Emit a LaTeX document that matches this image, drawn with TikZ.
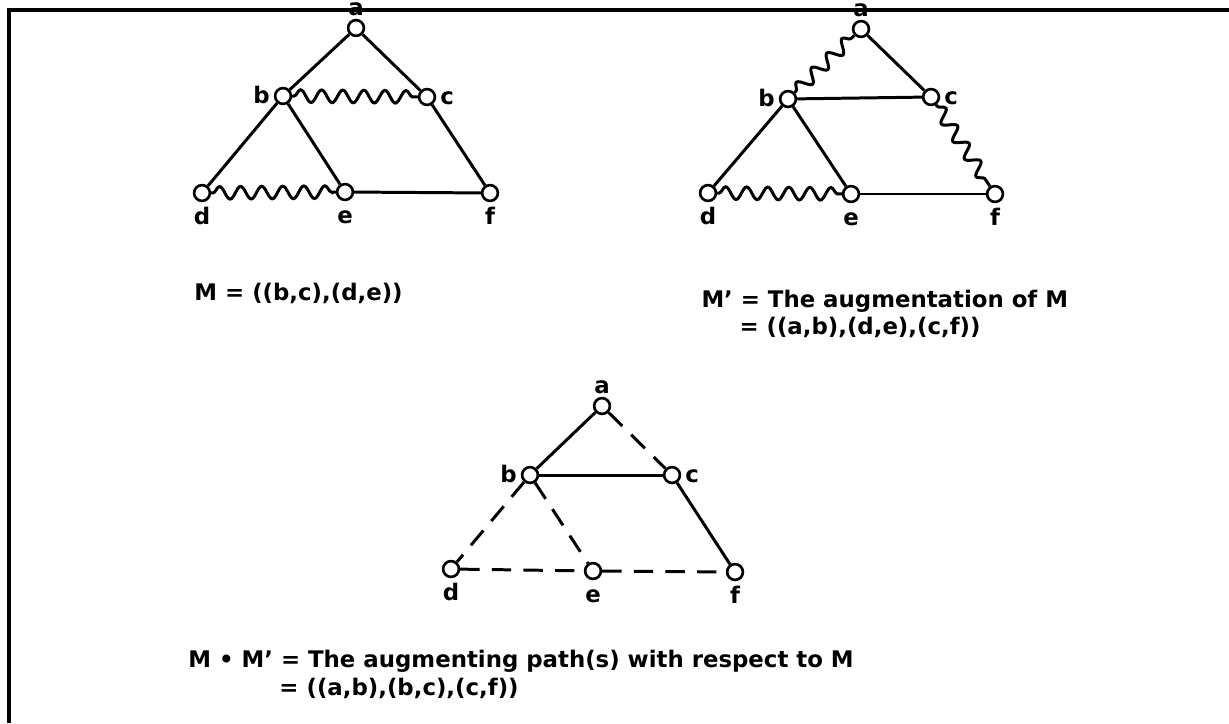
\documentclass[tikz,border=0pt]{standalone}
\usepackage{fontspec}
\setmainfont{DejaVu Sans}
\usetikzlibrary{positioning,decorations.pathmorphing}
\definecolor{ink}{HTML}{000000}
\tikzset{every node/.style={font=\bfseries\fontsize{13}{15}\selectfont,text=ink},
  vertex/.style={circle,draw=ink,fill=white,line width=1.5pt,minimum size=9pt,inner sep=0pt},
  tag/.style={inner sep=0pt,text height=1.6ex,text depth=0pt},
  edge/.style={draw=ink,line width=1.7pt},
  matched/.style={edge,decorate,decoration={snake,amplitude=3.6pt,segment length=12pt,pre length=1pt,post length=1pt}},
  broken/.style={edge,dash pattern=on 11pt off 7pt},
  frame/.style={draw=ink,line width=1.9pt},
  caption/.style={anchor=base west,inner sep=0pt}}

\begin{document}
\begin{tikzpicture}[x=0.02cm,y=-0.02cm,line width=1.7pt]
\useasboundingbox (0,0) rectangle (1229,723);
\foreach \n/\x/\y/\p/\d in {a/356/28/above/1pt,b/283/96/left/1.5pt,c/427/97/right/1.5pt,d/202/193/below/3pt,e/345/192/below/3pt,f/490/193/below/3pt} {\node[vertex] (m\n) at (\x,\y) {};\node[tag,\p=\d of m\n] (m\n l) {\n};}
\foreach \n/\x/\y/\p/\d in {a/861/29/above/1pt,b/788/99/left/1.5pt,c/931/97/right/1.5pt,d/708/193/below/3pt,e/851/194/below/3pt,f/995/194/below/3pt} {\node[vertex] (mp\n) at (\x,\y) {};\node[tag,\p=\d of mp\n] (mp\n l) {\n};}
\foreach \n/\x/\y/\p/\d in {a/602/406/above/1pt,b/530/475/left/1.5pt,c/672/475/right/1.5pt,d/451/569/below/3pt,e/593/571/below/3pt,f/735/572/below/3pt} {\node[vertex] (md\n) at (\x,\y) {};\node[tag,\p=\d of md\n] (md\n l) {\n};}
\foreach \u/\v in {a/b,a/c,b/d,b/e,e/f,c/f} {\draw[edge] (m\u)--(m\v);}
\foreach \u/\v in {b/c,d/e} {\draw[matched] (m\u)--(m\v);}
\foreach \u/\v in {a/c,b/c,b/d,b/e,e/f} {\draw[edge] (mp\u)--(mp\v);}
\foreach \u/\v in {b/a,d/e,c/f} {\draw[matched] (mp\u)--(mp\v);}
\foreach \u/\v in {a/b,b/c,c/f} {\draw[edge] (md\u)--(md\v);}
\foreach \u/\v in {a/c,b/d,b/e,d/e,e/f} {\draw[broken] (md\u)--(md\v);}
\node[caption] (mtext) at (193,300) {M = ((b,c),(d,e))};
\node[caption] (mptext) at (700,307) {M’ = The augmentation of M};
\node[caption] (mpset) at (738,334) {= ((a,b),(d,e),(c,f))};
\node[caption] (mdtext) at (187,667) {M • M’ = The augmenting path(s) with respect to M};
\node[caption] (mdset) at (278,695) {= ((a,b),(b,c),(c,f))};
\coordinate (cornerlo) at (9,723);\coordinate (cornertl) at (9,10);\coordinate (cornertr) at (1229,10);
\draw[frame] (cornerlo)--(cornertl)--(cornertr);
\end{tikzpicture}
\end{document}
